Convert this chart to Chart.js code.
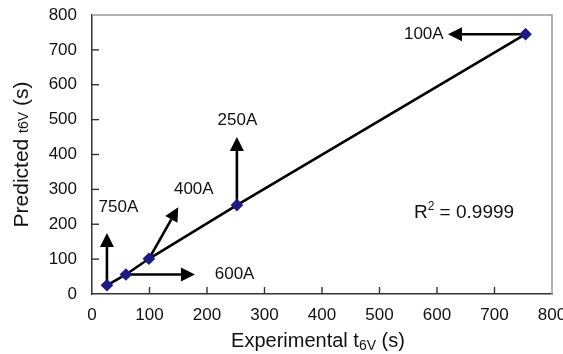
<!DOCTYPE html>
<html>
<head>
<meta charset="utf-8">
<script src="https://cdn.jsdelivr.net/npm/chart.js@4.4.1/dist/chart.umd.min.js"></script>
<style>
  html, body { margin: 0; padding: 0; background: #fff; }
  #wrap { width: 563px; height: 354px; }
</style>
</head>
<body>
<div id="wrap"><canvas id="t6vChart"></canvas></div>
<script>
const currents = ['750A', '600A', '400A', '250A', '100A'];
const experimental = [26, 59, 99, 252, 754];
const predicted = [25, 56, 101, 255, 745];
// where each arrow points to, and where its current label sits (data units)
const arrowTipX = [26, 179, 150, 252, 619];
const arrowTipY = [175, 56, 249, 450, 745];
const labelX = [46, 248, 177, 253, 577];
const labelY = [248, 57, 301, 497, 744];
const axisTicks = [0, 100, 200, 300, 400, 500, 600, 700, 800];
const rSquared = '0.9999';
const rSquaredAt = [647, 238];

const FONT = '"Liberation Sans", Arial, sans-serif';

function drawArrow(ctx, x0, y0, x1, y1) {
  const ang = Math.atan2(y1 - y0, x1 - x0);
  const head = 14, half = 7;
  const bx = x1 - head * Math.cos(ang), by = y1 - head * Math.sin(ang);
  ctx.beginPath(); ctx.moveTo(x0, y0); ctx.lineTo(bx, by); ctx.stroke();
  ctx.beginPath();
  ctx.moveTo(x1, y1);
  ctx.lineTo(bx + half * Math.sin(ang), by - half * Math.cos(ang));
  ctx.lineTo(bx - half * Math.sin(ang), by + half * Math.cos(ang));
  ctx.closePath(); ctx.fill();
}

// text made of runs of different size / baseline shift, centred on x
function drawRuns(ctx, runs, x, y) {
  let total = 0;
  runs.forEach(r => { ctx.font = `${r.size}px ${FONT}`; r.w = ctx.measureText(r.text).width; total += r.w; });
  let cx = x - total / 2;
  ctx.textAlign = 'left';
  ctx.textBaseline = 'alphabetic';
  runs.forEach(r => {
    ctx.font = `${r.size}px ${FONT}`;
    ctx.fillText(r.text, cx, y + (r.dy || 0));
    cx += r.w;
  });
}

const arrowsPlugin = {
  id: 'arrows',
  beforeDatasetsDraw(chart) {
    const { ctx, scales: { x, y } } = chart;
    ctx.save();
    ctx.strokeStyle = '#000';
    ctx.fillStyle = '#000';
    ctx.lineWidth = 2.6;
    experimental.forEach((ex, i) => {
      drawArrow(ctx, x.getPixelForValue(ex), y.getPixelForValue(predicted[i]),
        x.getPixelForValue(arrowTipX[i]), y.getPixelForValue(arrowTipY[i]));
    });
    ctx.restore();
  },
  afterDraw(chart) {
    const { ctx, chartArea: a, scales: { x, y } } = chart;
    ctx.save();
    // light frame on top and right
    ctx.strokeStyle = '#9a9a9a';
    ctx.lineWidth = 1.5;
    ctx.beginPath();
    ctx.moveTo(a.left, a.top); ctx.lineTo(a.right, a.top); ctx.lineTo(a.right, a.bottom);
    ctx.stroke();
    // inward ticks
    ctx.strokeStyle = '#333';
    ctx.lineWidth = 1.4;
    axisTicks.slice(1, -1).forEach(v => {
      const px = x.getPixelForValue(v), py = y.getPixelForValue(v);
      ctx.beginPath(); ctx.moveTo(px, a.bottom); ctx.lineTo(px, a.bottom - 7); ctx.stroke();
      ctx.beginPath(); ctx.moveTo(a.left, py); ctx.lineTo(a.left + 7, py); ctx.stroke();
    });
    // current labels
    ctx.fillStyle = '#111';
    ctx.font = `17px ${FONT}`;
    ctx.textAlign = 'center';
    ctx.textBaseline = 'middle';
    currents.forEach((c, i) => {
      ctx.fillText(c, x.getPixelForValue(labelX[i]), y.getPixelForValue(labelY[i]));
    });
    // R squared
    drawRuns(ctx, [
      { text: 'R', size: 19 },
      { text: '2', size: 12, dy: -8 },
      { text: ' = ' + rSquared, size: 19 },
    ], x.getPixelForValue(rSquaredAt[0]), y.getPixelForValue(rSquaredAt[1]) + 7);
    // axis titles
    drawRuns(ctx, [
      { text: 'Experimental t', size: 20 },
      { text: '6V', size: 14, dy: 3 },
      { text: ' (s)', size: 20 },
    ], (a.left + a.right) / 2 - 4, 347);
    ctx.translate(28, (a.top + a.bottom) / 2);
    ctx.rotate(-Math.PI / 2);
    drawRuns(ctx, [
      { text: 'Predicted ', size: 21 },
      { text: 't6V', size: 14 },
      { text: ' (s)', size: 21 },
    ], 0, 0);
    ctx.restore();
  },
};

const tickFont = { family: FONT, size: 17 };

new Chart(document.getElementById('t6vChart'), {
  type: 'scatter',
  data: {
    datasets: [{
      data: experimental.map((ex, i) => ({ x: ex, y: predicted[i] })),
      showLine: true,
      borderColor: '#000',
      borderWidth: 2.6,
      pointStyle: 'rectRot',
      pointRadius: 4.5,
      pointBackgroundColor: '#1c1c86',
      pointBorderColor: '#1c1c86',
    }],
  },
  options: {
    responsive: true, maintainAspectRatio: false, animation: false,
    layout: { padding: { left: 0, top: 15, right: 11, bottom: 0 } },
    plugins: { legend: { display: false }, tooltip: { enabled: false } },
    scales: {
      x: {
        type: 'linear', min: 0, max: 800,
        afterBuildTicks: (s) => { s.ticks = axisTicks.map(v => ({ value: v })); },
        afterFit: (s) => { s.height = 60; s.paddingLeft = 0; s.paddingRight = 0; },
        grid: { drawOnChartArea: false, drawTicks: false },
        border: { color: '#333', width: 1.5 },
        ticks: { font: tickFont, color: '#111', padding: 11, maxRotation: 0 },
      },
      y: {
        type: 'linear', min: 0, max: 800,
        afterBuildTicks: (s) => { s.ticks = axisTicks.map(v => ({ value: v })); },
        afterFit: (s) => { s.width = 92; s.paddingTop = 0; s.paddingBottom = 0; },
        grid: { drawOnChartArea: false, drawTicks: false },
        border: { color: '#333', width: 1.5 },
        ticks: { font: tickFont, color: '#111', padding: 15 },
      },
    },
  },
  plugins: [arrowsPlugin],
});
</script>
</body>
</html>
